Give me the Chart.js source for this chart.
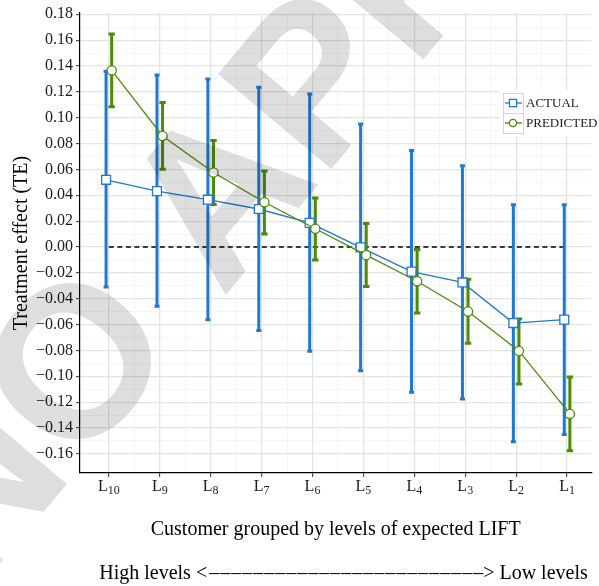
<!DOCTYPE html>
<html>
<head>
<meta charset="utf-8">
<script src="https://cdn.jsdelivr.net/npm/chart.js@4.4.1/dist/chart.umd.min.js"></script>
<style>
  html, body { margin: 0; padding: 0; background: #fff; }
  #chart { display: block; }
</style>
</head>
<body>
<canvas id="chart" width="599" height="586"></canvas>
<script>
// levels of expected LIFT, high -> low
const categories = ['L10', 'L9', 'L8', 'L7', 'L6', 'L5', 'L4', 'L3', 'L2', 'L1'];

const actualTE   = [0.0520, 0.0432, 0.0366, 0.0294, 0.0187, -0.0003, -0.0190, -0.0274, -0.0588, -0.0562];
const actualLow  = [-0.0310, -0.0458, -0.0562, -0.0646, -0.0807, -0.0957, -0.1124, -0.1176, -0.1507, -0.1450];
const actualHigh = [0.1360, 0.1330, 0.1300, 0.1236, 0.1184, 0.0951, 0.0746, 0.0628, 0.0326, 0.0326];

const predictedTE   = [0.1366, 0.0859, 0.0576, 0.0346, 0.0141, -0.0063, -0.0265, -0.0499, -0.0804, -0.1291];
const predictedLow  = [0.1084, 0.0602, 0.0329, 0.0101, -0.0101, -0.0305, -0.0510, -0.0744, -0.1060, -0.1576];
const predictedHigh = [0.1648, 0.1118, 0.0824, 0.0588, 0.0380, 0.0182, -0.0020, -0.0250, -0.0556, -0.1006];

const yTicks = [-0.16, -0.14, -0.12, -0.10, -0.08, -0.06, -0.04, -0.02, 0.00,
                0.02, 0.04, 0.06, 0.08, 0.10, 0.12, 0.14, 0.16, 0.18];

const yTitle = 'Treatment effect (TE)';
const xTitle = 'Customer grouped by levels of expected LIFT';
const noteLeft = 'High levels <';
const noteRight = '> Low levels';
const watermark = 'NO APPROVAL';

const blue = '#1f78d2';
const green = '#4a8c06';
const serif = '"Liberation Serif", "Times New Roman", serif';
const dodge = 0.055;

const isMajorY = v => yTicks.some(t => Math.abs(t - v) < 1e-6);
const fmtY = v => (Math.abs(v) < 1e-9 ? 0 : v).toFixed(2).replace('-', '\u2212');
const minorY = yTicks.slice(0, -1).map(t => Math.round((t + 0.01) * 1000) / 1000);

const errorBars = {
  id: 'errorBars',
  afterDatasetDraw(chart, args) {
    if (args.index !== 2) return;
    const { ctx, scales: { x, y } } = chart;
    const sets = [
      { lo: actualLow, hi: actualHigh, off: -dodge, color: blue, cap: 2.5 },
      { lo: predictedLow, hi: predictedHigh, off: dodge, color: green, cap: 3.2 }
    ];
    ctx.save();
    ctx.lineWidth = 3;
    sets.forEach(s => {
      ctx.strokeStyle = s.color;
      s.lo.forEach((lo, i) => {
        const px = x.getPixelForValue(i + 1 + s.off);
        const y1 = y.getPixelForValue(lo);
        const y2 = y.getPixelForValue(s.hi[i]);
        ctx.beginPath();
        ctx.moveTo(px, y1); ctx.lineTo(px, y2);
        ctx.moveTo(px - s.cap, y1); ctx.lineTo(px + s.cap, y1);
        ctx.moveTo(px - s.cap, y2); ctx.lineTo(px + s.cap, y2);
        ctx.stroke();
      });
    });
    ctx.restore();
  }
};

const extras = {
  id: 'extras',
  afterDraw(chart) {
    const { ctx, scales: { x } } = chart;
    ctx.save();
    // x tick labels with subscripts
    ctx.fillStyle = '#1a1a1a';
    ctx.textBaseline = 'alphabetic';
    ctx.textAlign = 'left';
    categories.forEach((lab, i) => {
      const main = lab[0], sub = lab.slice(1);
      ctx.font = '16px ' + serif;
      const w1 = ctx.measureText(main).width;
      ctx.font = '12px ' + serif;
      const w2 = ctx.measureText(sub).width;
      const x0 = x.getPixelForValue(i + 1) - (w1 + w2) / 2;
      ctx.font = '16px ' + serif;
      ctx.fillText(main, x0, 491);
      ctx.font = '12px ' + serif;
      ctx.fillText(sub, x0 + w1, 494);
    });

    // "High levels <----> Low levels" note
    ctx.fillStyle = '#000';
    ctx.font = '20px ' + serif;
    const nDash = 25, dashStep = 11;
    const wl = ctx.measureText(noteLeft).width;
    const wr = ctx.measureText(noteRight).width;
    const total = wl + 2 + nDash * dashStep - 1 + wr;
    let nx = 343.5 - total / 2;
    ctx.fillText(noteLeft, nx, 578.5);
    nx += wl + 2;
    for (let i = 0; i < nDash; i++) {
      ctx.fillText('\u2013', nx, 578.5);
      nx += dashStep;
    }
    nx -= 1;
    ctx.fillText(noteRight, nx, 578.5);

    // legend
    const lx = 503, ly = 93, kw = 20, kh = 20;
    ctx.fillStyle = '#fff';
    ctx.fillRect(lx - 3, ly - 3, 599 - lx + 3, 2 * kh + 6);
    const rows = [
      { ds: chart.data.datasets[0], color: blue, style: 'rect' },
      { ds: chart.data.datasets[1], color: green, style: 'circle' }
    ];
    rows.forEach((r, i) => {
      const top = ly + i * kh;
      const cy = top + kh / 2;
      const cx = lx + kw / 2;
      ctx.strokeStyle = '#d6d6d6';
      ctx.lineWidth = 1;
      ctx.strokeRect(lx + 0.5, top + 0.5, kw, kh);
      ctx.strokeStyle = r.color;
      ctx.lineWidth = 1.3;
      ctx.beginPath(); ctx.moveTo(lx + 2, cy); ctx.lineTo(lx + kw - 1, cy); ctx.stroke();
      ctx.fillStyle = '#fff';
      ctx.beginPath();
      if (r.style === 'rect') ctx.rect(cx - 3.6, cy - 3.6, 7.2, 7.2);
      else ctx.arc(cx, cy, 3.6, 0, Math.PI * 2);
      ctx.fill(); ctx.stroke();
      ctx.fillStyle = '#1a1a1a';
      ctx.font = '13px ' + serif;
      ctx.textBaseline = 'middle';
      ctx.fillText(r.ds.label, lx + kw + 3, cy + 0.5);
    });

    // watermark
    ctx.globalCompositeOperation = 'multiply';
    ctx.fillStyle = '#dedede';
    ctx.font = 'bold 215px "Liberation Sans", Arial, sans-serif';
    ctx.textBaseline = 'alphabetic';
    ctx.translate(322, 180);
    ctx.rotate(-50 * Math.PI / 180);
    const pre = ctx.measureText('NO A').width;
    ctx.fillText(watermark, -pre, 0);
    ctx.restore();
  }
};

new Chart(document.getElementById('chart'), {
  type: 'line',
  data: {
    datasets: [
      {
        label: 'ACTUAL',
        data: actualTE.map((v, i) => ({ x: i + 1 - dodge, y: v })),
        borderColor: blue,
        borderWidth: 1.3,
        pointStyle: 'rect',
        pointRadius: 6.3,
        pointBorderWidth: 1.3,
        pointBackgroundColor: '#fff',
        pointBorderColor: blue,
        order: 2
      },
      {
        label: 'PREDICTED',
        data: predictedTE.map((v, i) => ({ x: i + 1 + dodge, y: v })),
        borderColor: green,
        borderWidth: 1.3,
        pointStyle: 'circle',
        pointRadius: 4.6,
        pointBorderWidth: 1.3,
        pointBackgroundColor: '#fff',
        pointBorderColor: green,
        order: 1
      },
      {
        label: 'zero',
        data: [{ x: 1, y: 0 }, { x: categories.length, y: 0 }],
        borderColor: '#000',
        borderWidth: 1.6,
        borderDash: [5, 3.5],
        pointRadius: 0,
        order: 3
      }
    ]
  },
  options: {
    responsive: false,
    animation: false,
    layout: { padding: { top: 13, left: 0, right: 0, bottom: 0 } },
    plugins: { legend: { display: false }, tooltip: { enabled: false } },
    scales: {
      x: {
        type: 'linear',
        min: 0.433,
        max: 10.478,
        afterBuildTicks: s => {
          const t = [];
          for (let i = 1; i <= categories.length; i++) {
            t.push({ value: i });
            if (i < categories.length) t.push({ value: i + 0.5 });
          }
          s.ticks = t;
        },
        afterFit: s => { s.height = 113; },
        ticks: { autoSkip: false, maxRotation: 0, callback: () => '' },
        grid: {
          color: c => (c.tick && Number.isInteger(c.tick.value)) ? '#e4e4e4' : '#f2f2f2',
          lineWidth: c => (c.tick && Number.isInteger(c.tick.value)) ? 1.3 : 0.8,
          tickLength: 4,
          tickWidth: 1,
          tickColor: c => (c.tick && Number.isInteger(c.tick.value)) ? '#333' : 'rgba(0,0,0,0)'
        },
        border: { color: '#000', width: 1.2 },
        title: {
          display: true,
          text: xTitle,
          color: '#000',
          font: { family: serif, size: 20, lineHeight: 1.04 },
          padding: { top: 0, bottom: 45.6 }
        }
      },
      y: {
        type: 'linear',
        min: -0.1748,
        max: 0.181,
        afterBuildTicks: s => {
          s.ticks = yTicks.concat(minorY).sort((a, b) => a - b).map(v => ({ value: v }));
        },
        afterFit: s => { s.width = 80; },
        ticks: {
          autoSkip: false,
          padding: 3,
          color: '#1a1a1a',
          font: { family: serif, size: 16 },
          callback: v => isMajorY(v) ? fmtY(v) : ''
        },
        grid: {
          color: c => (c.tick && isMajorY(c.tick.value)) ? '#e4e4e4' : '#f2f2f2',
          lineWidth: c => (c.tick && isMajorY(c.tick.value)) ? 1.3 : 0.8,
          tickLength: 4,
          tickWidth: 1,
          tickColor: c => (c.tick && isMajorY(c.tick.value)) ? '#333' : 'rgba(0,0,0,0)'
        },
        border: { color: '#000', width: 1.2 },
        title: {
          display: true,
          text: yTitle,
          color: '#000',
          font: { family: serif, size: 20, lineHeight: 1 },
          padding: { top: 11.5, bottom: 0 }
        }
      }
    }
  },
  plugins: [errorBars, extras]
});
</script>
</body>
</html>
